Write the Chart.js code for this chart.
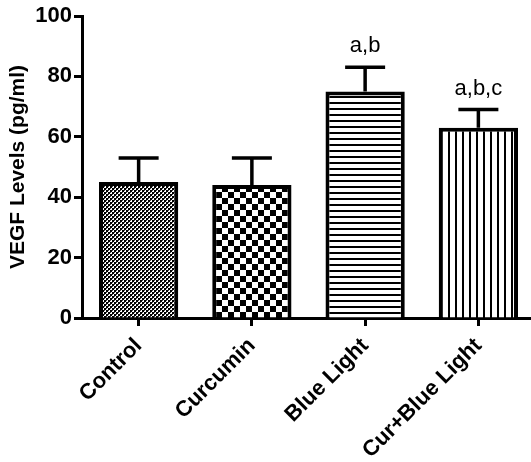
<!DOCTYPE html>
<html>
<head>
<meta charset="utf-8">
<script src="https://cdn.jsdelivr.net/npm/chart.js@4"></script>
<style>
  html, body { margin: 0; padding: 0; background: #fff; overflow: hidden; }
  #chart { display: block; }
</style>
</head>
<body>
<canvas id="chart" width="535" height="462"></canvas>
<script>
/* --------------- Data --------------------- */
const groups = ["Control", "Curcumin", "Blue Light", "Cur+Blue Light"];
const vegfMean = [45, 44, 75, 63];
const vegfSem = [8, 9, 8, 6];
const sigLabels = ["", "", "a,b", "a,b,c"];
const yTicks = [0, 20, 40, 60, 80, 100];

const FONT = "'Liberation Sans', Arial, sans-serif";

/* --------------- Fill patterns --------------------- */
function makePattern(w, h, draw) {
  const c = document.createElement("canvas");
  c.width = w;
  c.height = h;
  const g = c.getContext("2d");
  g.fillStyle = "#fff";
  g.fillRect(0, 0, w, h);
  g.fillStyle = "#000";
  draw(g);
  return document.getElementById("chart").getContext("2d").createPattern(c, "repeat");
}
const fineChecker = makePattern(4, 4, (g) => {
  g.fillRect(0, 0, 2, 2);
  g.fillRect(2, 2, 2, 2);
  g.fillStyle = "#444";
  g.fillRect(2, 0, 1, 1);
  g.fillRect(0, 2, 1, 1);
});
const coarseChecker = makePattern(12, 12, (g) => {
  g.fillRect(0, 0, 6, 6);
  g.fillRect(6, 6, 6, 6);
});
const hLines = makePattern(6, 6, (g) => {
  g.fillRect(0, 0, 6, 2);
});
const vLines = makePattern(7, 7, (g) => {
  g.fillRect(0, 0, 2, 7);
});
const fills = [fineChecker, coarseChecker, hLines, vLines];

/* --------------- Error bars + significance letters --------------------- */
const errorBars = {
  id: "errorBars",
  afterDatasetsDraw(chart) {
    const ctx = chart.ctx;
    const y = chart.scales.y;
    const meta = chart.getDatasetMeta(0);
    ctx.save();
    ctx.strokeStyle = "#000";
    ctx.lineWidth = 3.5;
    ctx.lineCap = "butt";
    meta.data.forEach((bar, i) => {
      const top = y.getPixelForValue(vegfMean[i] + vegfSem[i]);
      const base = y.getPixelForValue(vegfMean[i]);
      ctx.beginPath();
      ctx.moveTo(bar.x, base);
      ctx.lineTo(bar.x, top);
      ctx.moveTo(bar.x - 20, top);
      ctx.lineTo(bar.x + 20, top);
      ctx.stroke();
      if (sigLabels[i]) {
        ctx.fillStyle = "#000";
        ctx.font = "22px " + FONT;
        ctx.textAlign = "center";
        ctx.textBaseline = "alphabetic";
        ctx.fillText(sigLabels[i], bar.x, top - 15);
      }
    });
    ctx.restore();
  },
};

/* --------------- Chart --------------------- */
new Chart(document.getElementById("chart"), {
  type: "bar",
  plugins: [errorBars],
  data: {
    labels: groups,
    datasets: [
      {
        data: vegfMean,
        backgroundColor: fills,
        borderColor: "#000",
        borderWidth: 4,
        barPercentage: 0.7,
        categoryPercentage: 1,
      },
    ],
  },
  options: {
    responsive: false,
    animation: false,
    layout: { padding: { top: 16, right: 0, left: 0, bottom: 0 } },
    plugins: {
      legend: { display: false },
      tooltip: { enabled: false },
    },
    scales: {
      x: {
        afterFit: (s) => { s.height = 144; },
        border: { color: "#000", width: 3 },
        grid: {
          offset: false,
          drawOnChartArea: false,
          tickLength: 8,
          tickColor: "#000",
          tickWidth: 3,
        },
        ticks: {
          color: "#000",
          font: { family: FONT, size: 22, weight: "bold" },
          minRotation: 45,
          maxRotation: 45,
          padding: 7,
        },
      },
      y: {
        min: 0,
        max: 100,
        afterFit: (s) => { s.width = 82; },
        afterBuildTicks: (s) => { s.ticks = yTicks.map((v) => ({ value: v })); },
        border: { color: "#000", width: 3 },
        grid: {
          drawOnChartArea: false,
          tickLength: 8,
          tickColor: "#000",
          tickWidth: 3,
        },
        ticks: {
          color: "#000",
          font: { family: FONT, size: 22, weight: "bold" },
          padding: 2,
        },
        title: {
          display: true,
          text: "VEGF Levels (pg/ml)",
          color: "#000",
          font: { family: FONT, size: 21, weight: "bold" },
          padding: { top: 6, bottom: 0 },
        },
      },
    },
  },
});
</script>
</body>
</html>
